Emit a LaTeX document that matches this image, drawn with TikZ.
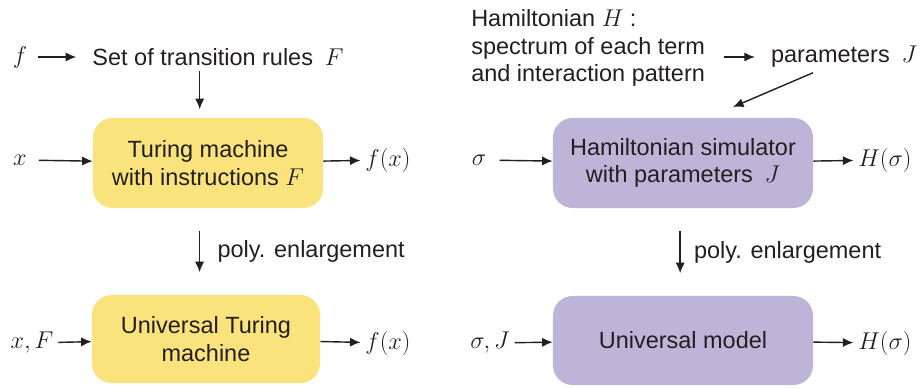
\documentclass[tikz,border=0pt]{standalone}
\usepackage{amsmath}
\usepackage{fontspec}
\setmainfont{Liberation Sans}
\usetikzlibrary{arrows.meta, positioning}
\definecolor{tmyellow}{RGB}{250,227,125}
\definecolor{hampurple}{RGB}{188,181,216}
\definecolor{ink}{RGB}{35,31,32}

\begin{document}
\begin{tikzpicture}[
        x=0.025cm, y=-0.025cm,
        every node/.style={text=ink, font=\fontsize{16.7}{19.8}\selectfont},
        box/.style={rectangle, rounded corners=14pt, align=center, inner sep=0pt},
        tmbox/.style={box, fill=tmyellow},
        hambox/.style={box, fill=hampurple},
        edge/.style={draw=ink, line width=1pt, -{Latex[length=7.5pt, width=6.5pt]}}
    ]
    \useasboundingbox (0,0) rectangle (923,388);

    % Turing machine side
    \node (f) at (20,57) {$f$};
    \node (rules) at (218,57) {Set of transition rules\enspace$F$};
    \node[tmbox, minimum width=5.75cm, minimum height=2.25cm] (tm) at (208,163) {Turing machine\\with instructions~$F$};
    \node (x) at (20,160) {$x$};
    \node (fx) at (388,160) {$f(x)$};
    \node[tmbox, minimum width=5.7cm, minimum height=2.2cm] (utm) at (206,339) {Universal Turing\\machine};
    \node (xF) at (32,343) {$x, F$};
    \node (fx2) at (388,343) {$f(x)$};

    \draw[edge, shorten <=4pt, shorten >=8pt] (f) -- (rules);
    \draw[edge, shorten >=6pt] ([xshift=-13pt]rules.south) -- ([xshift=-13pt]rules.south |- tm.north);
    \draw[edge, shorten <=5pt] (x) -- (tm);
    \draw[edge] (tm) -- (fx);
    \draw[edge, shorten >=16pt, shorten <=16pt] ([xshift=-6pt]tm.south) -- node[right=9pt] {poly. enlargement} ([xshift=-6pt]tm.south |- utm.north);
    \draw[edge] (xF) -- (utm);
    \draw[edge] (utm) -- (fx2);

    % Hamiltonian side
    \node[align=left, anchor=north west, inner sep=0pt] (ham) at (471,9) {Hamiltonian $H$ :\\spectrum of each term\\and interaction pattern};
    \node (params) at (844,57) {parameters\enspace$J$};
    \coordinate (pin) at (733,107);
    \node[hambox, minimum width=6.5cm, minimum height=2.25cm] (sim) at (683,163) {Hamiltonian simulator\\with parameters\enspace$J$};
    \node (sigma) at (479,160) {$\sigma$};
    \node (Hs) at (885,160) {$H(\sigma)$};
    \node[hambox, minimum width=6.5cm, minimum height=2.225cm] (um) at (683,340.5) {Universal model};
    \node (sJ) at (490,343) {$\sigma, J$};
    \node (Hs2) at (885,343) {$H(\sigma)$};

    \draw[edge, shorten <=13pt, shorten >=8pt] (ham.east |- params) -- (params);
    \draw[edge] ([xshift=-22pt]params.south) -- (pin);
    \draw[edge, shorten <=6pt] (sigma) -- (sim);
    \draw[edge] (sim) -- (Hs);
    \draw[edge, shorten >=16pt, shorten <=16pt] ([xshift=-2pt]sim.south) -- node[right=6pt] {poly. enlargement} ([xshift=-2pt]sim.south |- um.north);
    \draw[edge] (sJ) -- (um);
    \draw[edge] (um) -- (Hs2);
\end{tikzpicture}
\end{document}
